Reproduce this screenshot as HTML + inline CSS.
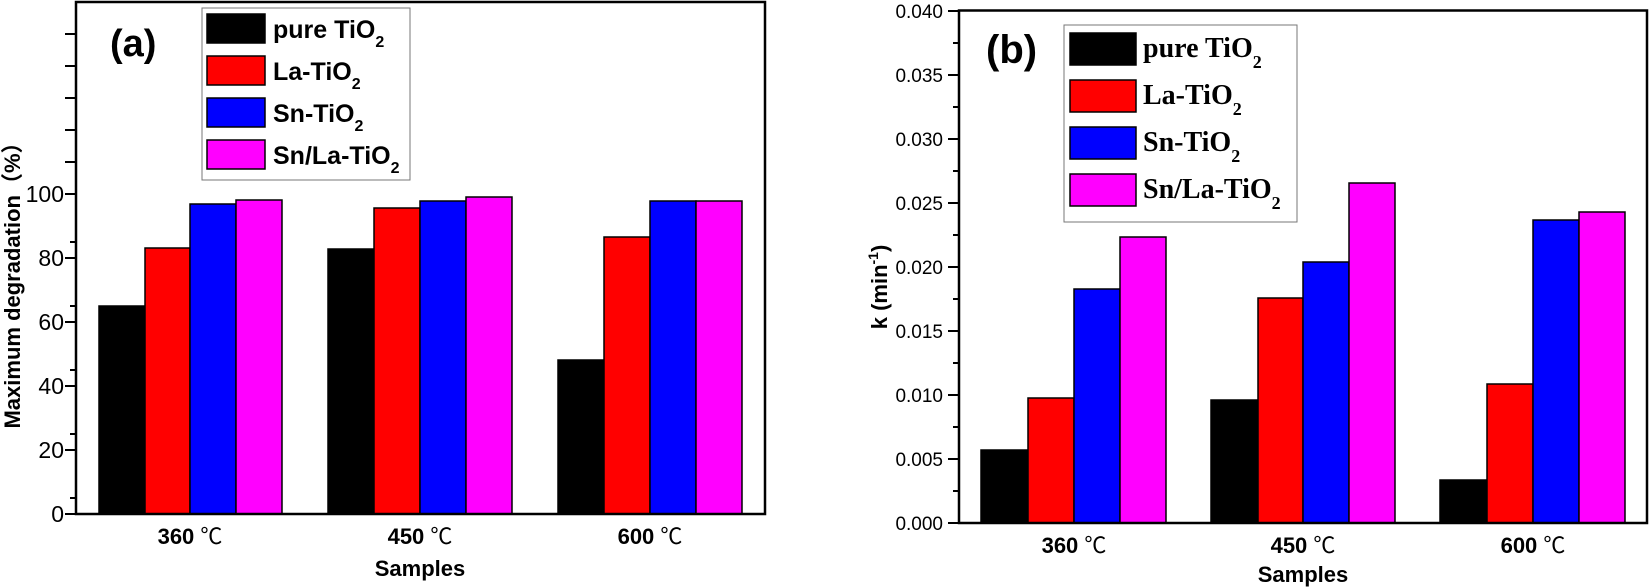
<!DOCTYPE html>
<html><head><meta charset="utf-8"><style>
html,body{margin:0;padding:0;background:#fff;}
svg{display:block;}
.s{font-family:"Liberation Sans","Noto Sans CJK SC",sans-serif;}
.t{font-family:"Liberation Serif","Noto Serif CJK SC",serif;font-weight:bold;}
</style></head><body>
<svg width="1650" height="587" viewBox="0 0 1650 587" xmlns="http://www.w3.org/2000/svg">
<!-- LEFT CHART -->
<g stroke="#000" stroke-width="1.5">
<rect x="99" y="306" width="46" height="208" fill="#000"/>
<rect x="145" y="248" width="45" height="266" fill="#f00"/>
<rect x="190" y="204" width="46" height="310" fill="#00f"/>
<rect x="236" y="200" width="46" height="314" fill="#f0f"/>
<rect x="328" y="249" width="46" height="265" fill="#000"/>
<rect x="374" y="208" width="46" height="306" fill="#f00"/>
<rect x="420" y="201" width="46" height="313" fill="#00f"/>
<rect x="466" y="197" width="46" height="317" fill="#f0f"/>
<rect x="558" y="360" width="46" height="154" fill="#000"/>
<rect x="604" y="237" width="46" height="277" fill="#f00"/>
<rect x="650" y="201" width="46" height="313" fill="#00f"/>
<rect x="696" y="201" width="46" height="313" fill="#f0f"/>
</g>
<rect x="76" y="2" width="689" height="512" fill="none" stroke="#000" stroke-width="2.5"/>
<g stroke="#000" stroke-width="2">
<line x1="65" y1="514" x2="76" y2="514"/><line x1="70" y1="498" x2="76" y2="498"/>
<line x1="65" y1="450" x2="76" y2="450"/><line x1="70" y1="434" x2="76" y2="434"/>
<line x1="65" y1="386" x2="76" y2="386"/><line x1="70" y1="370" x2="76" y2="370"/>
<line x1="65" y1="322" x2="76" y2="322"/><line x1="70" y1="306" x2="76" y2="306"/>
<line x1="65" y1="258" x2="76" y2="258"/><line x1="70" y1="242" x2="76" y2="242"/>
<line x1="65" y1="194" x2="76" y2="194"/>
<line x1="65" y1="162" x2="76" y2="162"/><line x1="65" y1="130" x2="76" y2="130"/>
<line x1="65" y1="98" x2="76" y2="98"/><line x1="65" y1="66" x2="76" y2="66"/>
<line x1="65" y1="34" x2="76" y2="34"/>
</g>
<g class="s" font-size="23" text-anchor="end">
<text x="64" y="522">0</text><text x="64" y="458">20</text><text x="64" y="394">40</text>
<text x="64" y="330">60</text><text x="64" y="266">80</text><text x="64" y="202">100</text>
</g>
<text class="s" font-size="22" font-weight="bold" transform="translate(20,280) rotate(-90)" text-anchor="middle">Maximum degradation（%）</text>
<g class="s" font-size="22" font-weight="bold" text-anchor="middle">
<text x="190" y="544">360 <tspan font-weight="normal">℃</tspan></text>
<text x="420" y="544">450 <tspan font-weight="normal">℃</tspan></text>
<text x="650" y="544">600 <tspan font-weight="normal">℃</tspan></text>
<text x="420" y="576">Samples</text>
</g>
<text class="s" x="110" y="56" font-size="38" font-weight="bold">(a)</text>
<rect x="202" y="8" width="208" height="172" fill="#fff" stroke="#777" stroke-width="1"/>
<g stroke="#000" stroke-width="1.5">
<rect x="207" y="14" width="58" height="29" fill="#000"/>
<rect x="207" y="56" width="58" height="29" fill="#f00"/>
<rect x="207" y="98" width="58" height="29" fill="#00f"/>
<rect x="207" y="140" width="58" height="29" fill="#f0f"/>
</g>
<g class="s" font-size="25" font-weight="bold">
<text x="273" y="38">pure TiO<tspan font-size="16" dy="9">2</tspan></text>
<text x="273" y="80">La-TiO<tspan font-size="16" dy="9">2</tspan></text>
<text x="273" y="122">Sn-TiO<tspan font-size="16" dy="9">2</tspan></text>
<text x="273" y="164">Sn/La-TiO<tspan font-size="16" dy="9">2</tspan></text>
</g>

<!-- RIGHT CHART -->
<g stroke="#000" stroke-width="1.5">
<rect x="981" y="450" width="47" height="73" fill="#000"/>
<rect x="1028" y="398" width="46" height="125" fill="#f00"/>
<rect x="1074" y="289" width="46" height="234" fill="#00f"/>
<rect x="1120" y="237" width="46" height="286" fill="#f0f"/>
<rect x="1211" y="400" width="47" height="123" fill="#000"/>
<rect x="1258" y="298" width="45" height="225" fill="#f00"/>
<rect x="1303" y="262" width="46" height="261" fill="#00f"/>
<rect x="1349" y="183" width="46" height="340" fill="#f0f"/>
<rect x="1440" y="480" width="47" height="43" fill="#000"/>
<rect x="1487" y="384" width="46" height="139" fill="#f00"/>
<rect x="1533" y="220" width="46" height="303" fill="#00f"/>
<rect x="1579" y="212" width="46" height="311" fill="#f0f"/>
</g>
<rect x="959" y="10.5" width="688" height="512.5" fill="none" stroke="#000" stroke-width="2.5"/>
<g stroke="#000" stroke-width="2">
<line x1="948" y1="523" x2="959" y2="523"/><line x1="953" y1="491" x2="959" y2="491"/>
<line x1="948" y1="459" x2="959" y2="459"/><line x1="953" y1="427" x2="959" y2="427"/>
<line x1="948" y1="395" x2="959" y2="395"/><line x1="953" y1="363" x2="959" y2="363"/>
<line x1="948" y1="331" x2="959" y2="331"/><line x1="953" y1="299" x2="959" y2="299"/>
<line x1="948" y1="267" x2="959" y2="267"/><line x1="953" y1="235" x2="959" y2="235"/>
<line x1="948" y1="203" x2="959" y2="203"/><line x1="953" y1="171" x2="959" y2="171"/>
<line x1="948" y1="139" x2="959" y2="139"/><line x1="953" y1="107" x2="959" y2="107"/>
<line x1="948" y1="75" x2="959" y2="75"/><line x1="953" y1="43" x2="959" y2="43"/>
<line x1="948" y1="11" x2="959" y2="11"/>
</g>
<g class="s" font-size="19" text-anchor="end">
<text x="943" y="530">0.000</text><text x="943" y="466">0.005</text><text x="943" y="402">0.010</text>
<text x="943" y="338">0.015</text><text x="943" y="274">0.020</text><text x="943" y="210">0.025</text>
<text x="943" y="146">0.030</text><text x="943" y="82">0.035</text><text x="943" y="18">0.040</text>
</g>
<text class="s" font-size="22" font-weight="bold" transform="translate(887,287) rotate(-90)" text-anchor="middle">k (min<tspan font-size="14" dy="-9">-1</tspan><tspan dy="9">)</tspan></text>
<g class="s" font-size="22" font-weight="bold" text-anchor="middle">
<text x="1074" y="553">360 <tspan font-weight="normal">℃</tspan></text>
<text x="1303" y="553">450 <tspan font-weight="normal">℃</tspan></text>
<text x="1533" y="553">600 <tspan font-weight="normal">℃</tspan></text>
<text x="1303" y="582">Samples</text>
</g>
<text class="s" x="986" y="63" font-size="40" font-weight="bold">(b)</text>
<rect x="1064" y="25" width="233" height="197" fill="#fff" stroke="#777" stroke-width="1"/>
<g stroke="#000" stroke-width="1.5">
<rect x="1070" y="33" width="66" height="32" fill="#000"/>
<rect x="1070" y="80" width="66" height="32" fill="#f00"/>
<rect x="1070" y="127" width="66" height="32" fill="#00f"/>
<rect x="1070" y="174" width="66" height="32" fill="#f0f"/>
</g>
<g class="t" font-size="28">
<text x="1143" y="57">pure TiO<tspan font-size="18" dy="11">2</tspan></text>
<text x="1143" y="104">La-TiO<tspan font-size="18" dy="11">2</tspan></text>
<text x="1143" y="151">Sn-TiO<tspan font-size="18" dy="11">2</tspan></text>
<text x="1143" y="198">Sn/La-TiO<tspan font-size="18" dy="11">2</tspan></text>
</g>
</svg>
</body></html>
